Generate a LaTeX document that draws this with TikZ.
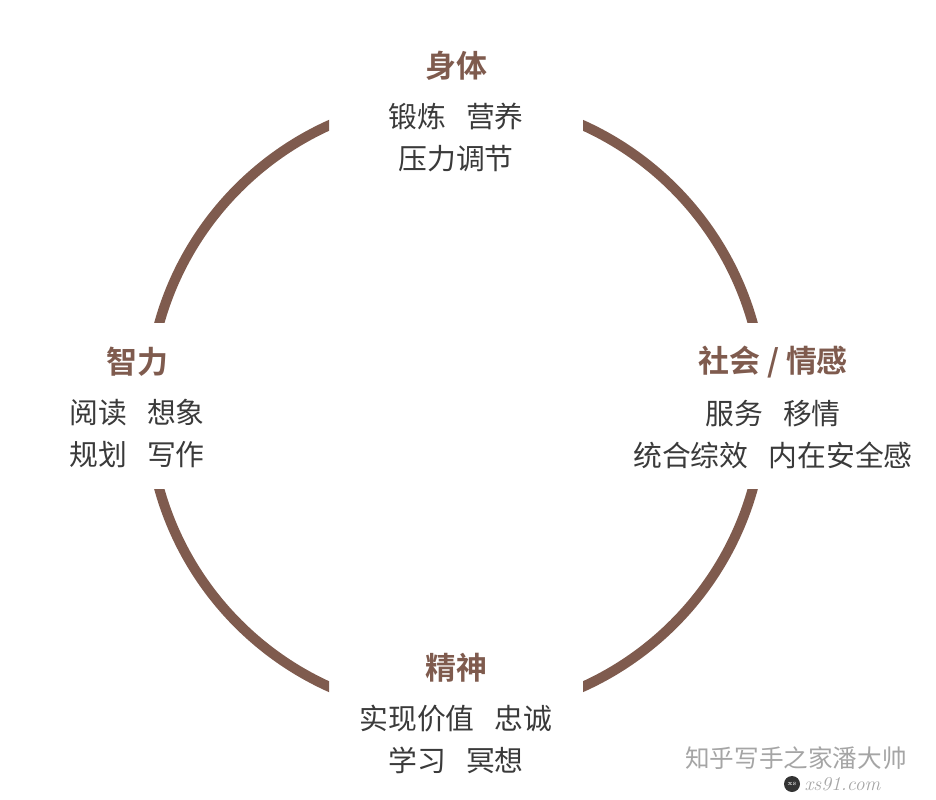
\documentclass[tikz,border=0pt]{standalone}
\usepackage{fontspec}
\usepackage{tikz}
\usetikzlibrary{positioning}
\newfontfamily\cjk{Noto Sans CJK SC}[BoldFont={Noto Sans CJK SC Bold}]
\definecolor{habitBrown}{RGB}{127,91,78}
\definecolor{habitText}{RGB}{58,58,58}
\definecolor{markGray}{RGB}{165,165,165}
\newcommand{\wsp}{\hspace{0.7em}}

\begin{document}
\begin{tikzpicture}[x=0.025cm,y=-0.025cm,
  title/.style={inner sep=0pt,text=habitBrown,
                font=\cjk\bfseries\fontsize{22}{26}\selectfont},
  items/.style={inner sep=0pt,align=center,text=habitText,
                font=\cjk\fontsize{20.5}{29.8}\selectfont},
  ring/.style={line width=0.25cm,draw=habitBrown},
  mark/.style={inner sep=0pt,text=markGray,font=#1}
]
\useasboundingbox (0,0) rectangle (936,800);
% Ring, cut into four arcs
\foreach \xa/\ya/\xb/\yb in {0/0/329/323,583/0/936/323,
                             0/490/329/800,583/490/936/800}{
  \begin{scope}
    \clip (\xa,\ya) rectangle (\xb,\yb);
    \draw[ring] (456,406) circle[radius=308];
  \end{scope}
}
% Body (top)
\node[title] (body) at (456,66) {身体};
\node[items,below=0.55cm of body] (bodyitems) {锻炼\wsp 营养\\压力调节};
% Mind (left)
\node[title] (mind) at (137,362) {智力};
\node[items,below=0.55cm of mind] (minditems) {阅读\wsp 想象\\规划\wsp 写作};
% Social / emotional (right)
\node[title] (social) at (773,362) {社会 / 情感};
\node[items,below=0.55cm of social] (socialitems)
  {服务\wsp 移情\\统合综效\wsp 内在安全感};
% Spirit (bottom)
\node[title] (spirit) at (456,668) {精神};
\node[items,below=0.55cm of spirit] (spirititems)
  {实现价值\wsp 忠诚\\学习\wsp 冥想};
% Watermark
\node[mark=\cjk\fontsize{17.5}{20}\selectfont] (wmark) at (796,758)
  {知乎写手之家潘大帅};
\node[circle,fill=black!80,minimum size=0.4cm,inner sep=0pt,
      text=white,font=\tiny] (xslogo) at (792,784) {xs};
\node[mark=\itshape\fontsize{14}{16}\selectfont,right=0.1cm of xslogo]
  (xsurl) {xs91.com};
\end{tikzpicture}
\end{document}
